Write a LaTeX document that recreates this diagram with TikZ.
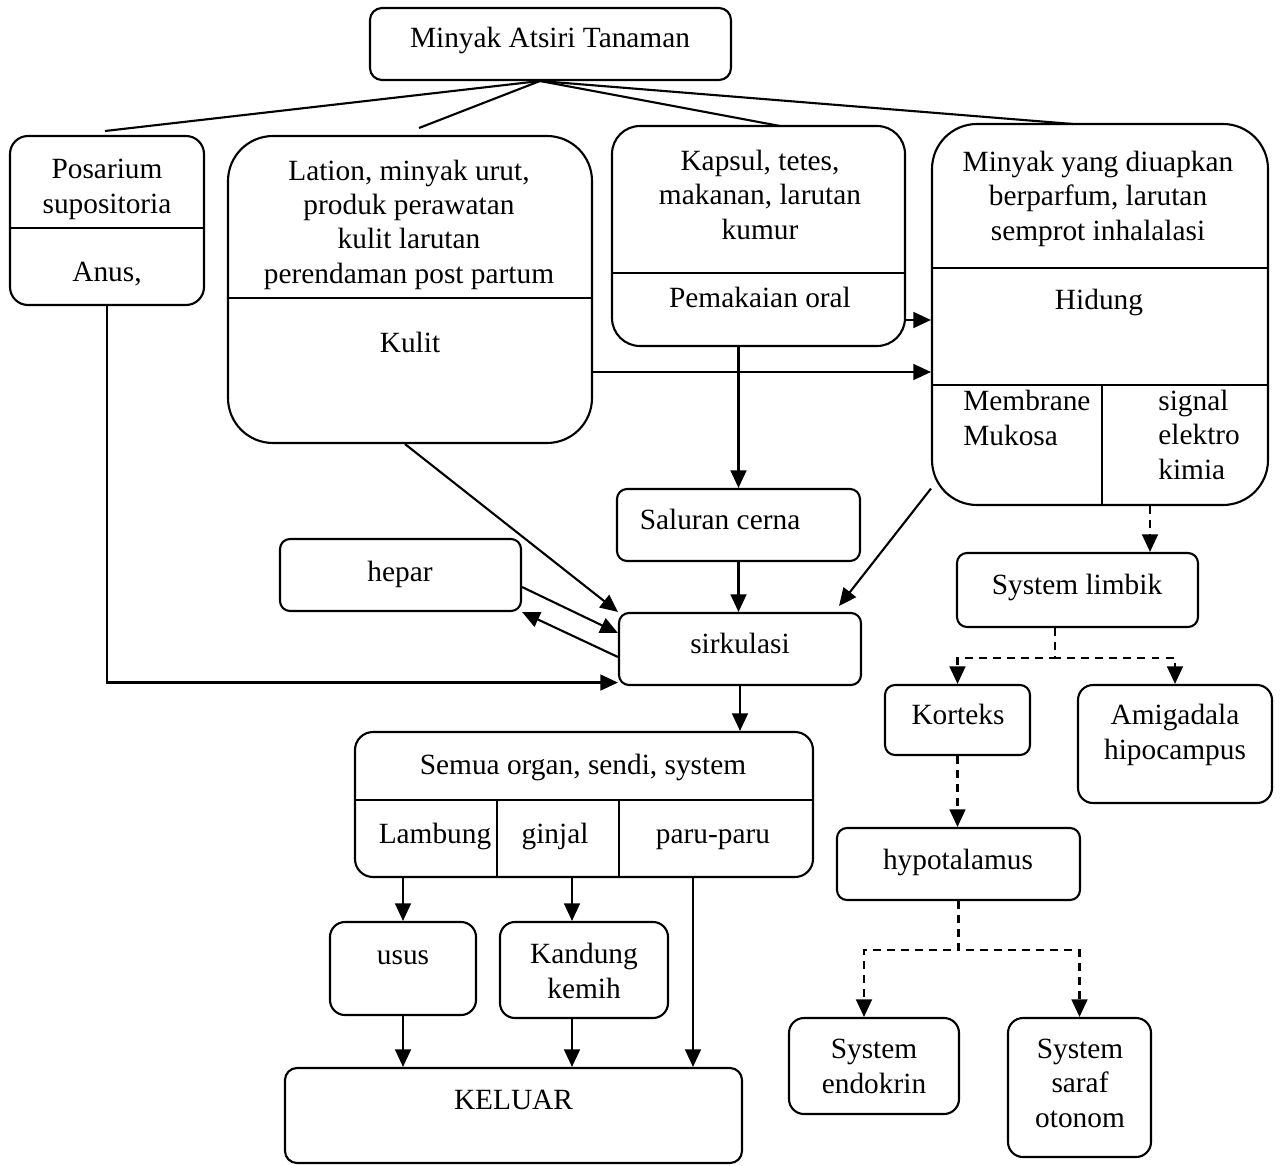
\documentclass[tikz,border=0pt]{standalone}
\usepackage{fontspec}
\setmainfont{Liberation Serif}
\usetikzlibrary{arrows.meta}

\begin{document}
\begin{tikzpicture}[
  box/.style={draw,line width=1.2pt,rounded corners=#1,inner sep=0pt},
  box/.default=0.2cm,
  wh/.style 2 args={minimum width=#1cm,minimum height=#2cm},
  txt/.style={font=\fontsize{16.7}{19.4}\selectfont,align=center,anchor=base,inner sep=0pt},
  ltxt/.style={txt,align=left,anchor=base west},
  line/.style={draw,line width=1.2pt},
  arr/.style={line,-{Triangle[length=10pt,width=9pt]}},
  darr/.style={arr,dash pattern=on 4.5pt off 3.5pt}
]
\useasboundingbox (0,0) rectangle (25.6,-23.32);

% top
\node[box=0.24cm,wh={7.22}{1.44}] (src) at (11.01,-0.88) {};
\node[txt] (srcT) at (11.0,-0.94) {Minyak Atsiri Tanaman};

% row of application routes
\node[box=0.36cm,wh={3.88}{3.38}] (pos) at (2.14,-4.41) {};
\node[box=0.9cm,wh={7.28}{6.14}] (oles) at (8.2,-5.79) {};
\node[box=0.56cm,wh={5.86}{4.4}] (oral) at (15.17,-4.72) {};
\node[box=0.9cm,wh={6.72}{7.62}] (inhal) at (22.0,-6.29) {};

\draw[line] ([yshift=-0.15cm]pos.west) -- ([yshift=-0.15cm]pos.east);
\draw[line] ([yshift=-0.17cm]oles.west) -- ([yshift=-0.17cm]oles.east);
\draw[line] ([yshift=-0.74cm]oral.west) -- ([yshift=-0.74cm]oral.east);
\draw[line] ([yshift=0.93cm]inhal.west) -- ([yshift=0.93cm]inhal.east);
\draw[line] ([yshift=-1.41cm]inhal.west) -- ([yshift=-1.41cm]inhal.east);
\draw[line] ([xshift=0.04cm,yshift=-1.41cm]inhal.center) -- ([xshift=0.04cm]inhal.south);

\node[txt] (posT) at (2.14,-4.26) {Posarium\\supositoria};
\node[txt] (posB) at (2.14,-5.62) {Anus,};
\node[txt] (olesT) at (8.18,-5.66) {Lation, minyak urut,\\produk perawatan\\kulit larutan\\perendaman post partum};
\node[txt] (olesB) at (8.2,-7.04) {Kulit};
\node[txt] (oralT) at (15.2,-4.78) {Kapsul, tetes,\\makanan, larutan\\kumur};
\node[txt] (oralB) at (15.2,-6.14) {Pemakaian oral};
\node[txt] (inhalT) at (21.96,-4.8) {Minyak yang diuapkan\\berparfum, larutan\\semprot inhalalasi};
\node[txt] (inhalB) at (21.98,-6.18) {Hidung};
\node[ltxt] (inhalL) at (19.26,-8.9) {Membrane\\Mukosa};
\node[ltxt] (inhalR) at (23.16,-9.58) {signal\\elektro\\kimia};

% middle
\node[box,wh={4.86}{1.44}] (cerna) at (14.77,-10.5) {};
\node[box,wh={4.82}{1.44}] (hep) at (8.01,-11.5) {};
\node[box,wh={4.84}{1.44}] (sirk) at (14.8,-12.98) {};
\node[txt] (cernaT) at (14.4,-10.58) {Saluran cerna};
\node[txt] (hepT) at (8.0,-11.62) {hepar};
\node[txt] (sirkT) at (14.8,-13.06) {sirkulasi};

% organs and exit
\node[box=0.36cm,wh={9.16}{2.9}] (organ) at (11.68,-16.09) {};
\draw[line] ([yshift=0.09cm]organ.west) -- ([yshift=0.09cm]organ.east);
\draw[line] ([xshift=-1.74cm,yshift=0.09cm]organ.center) -- ([xshift=-1.74cm]organ.south);
\draw[line] ([xshift=0.7cm,yshift=0.09cm]organ.center) -- ([xshift=0.7cm]organ.south);
\node[txt] (organT) at (11.66,-15.48) {Semua organ, sendi, system};
\node[txt] (lamb) at (8.7,-16.86) {Lambung};
\node[txt] (ginj) at (11.1,-16.86) {ginjal};
\node[txt] (paru) at (14.26,-16.86) {paru-paru};

\node[box=0.3cm,wh={2.92}{1.86}] (usus) at (8.06,-19.37) {};
\node[box=0.3cm,wh={3.36}{1.92}] (kand) at (11.68,-19.4) {};
\node[box=0.24cm,wh={9.14}{1.9}] (kel) at (10.27,-22.31) {};
\node[txt] (ususT) at (8.06,-19.28) {usus};
\node[txt] (kandT) at (11.68,-19.96) {Kandung\\kemih};
\node[txt] (kelT) at (10.27,-22.18) {KELUAR};

% limbic side
\node[box,wh={4.82}{1.48}] (limb) at (21.55,-11.8) {};
\node[box,wh={2.9}{1.4}] (kort) at (19.15,-14.4) {};
\node[box=0.3cm,wh={3.88}{2.36}] (amig) at (23.5,-14.88) {};
\node[box,wh={4.86}{1.44}] (hypo) at (19.17,-17.28) {};
\node[box=0.3cm,wh={3.4}{1.92}] (endo) at (17.48,-21.32) {};
\node[box=0.3cm,wh={2.86}{2.78}] (saraf) at (21.59,-21.75) {};
\node[txt] (limbT) at (21.54,-11.88) {System limbik};
\node[txt] (kortT) at (19.16,-14.48) {Korteks};
\node[txt] (amigT) at (23.5,-15.18) {Amigadala\\hipocampus};
\node[txt] (hypoT) at (19.16,-17.38) {hypotalamus};
\node[txt] (endoT) at (17.48,-21.86) {System\\endokrin};
\node[txt] (sarafT) at (21.6,-22.54) {System\\saraf\\otonom};

% branches from the top
\coordinate (apex) at (10.8,-1.62);
\coordinate (toPos) at (2.1,-2.62);
\coordinate (toOles) at (8.38,-2.56);
\coordinate (toOral) at (15.6,-2.52);
\coordinate (toInhal) at (21.46,-2.48);
\draw[line] (apex) -- (toPos);
\draw[line] (apex) -- (toOles);
\draw[line] (apex) -- (toOral);
\draw[line] (apex) -- (toInhal);

% into the blood
\coordinate (yK) at (0,-7.44);
\coordinate (yO) at (0,-6.4);
\draw[arr] (oles.east |- yK) -- (inhal.west |- yK);
\draw[arr] (oral.east |- yO) -- (inhal.west |- yO);
\draw[arr] (oral.south -| cerna.north) -- (cerna.north);
\draw[arr] (cerna.south) -- (cerna.south |- sirk.north);
\draw[arr] (pos.south) |- ([yshift=2pt]sirk.south west);
\draw[arr] ([xshift=-0.1cm]oles.south) -- (sirk.north west);
\draw[arr] ([yshift=-0.24cm]hep.east) -- ([yshift=0.32cm]sirk.west);
\draw[arr] ([yshift=-0.16cm]sirk.west) -- (hep.south east);
\draw[arr] ([yshift=0.35cm]inhal.south west) -- ([xshift=-0.46cm,yshift=0.12cm]sirk.north east);
\draw[arr] (sirk.south) -- (sirk.south |- organ.north);

% out of the body
\coordinate (xP) at (13.86,0);
\draw[arr] (usus.north |- organ.south) -- (usus.north);
\draw[arr] ([xshift=-0.24cm]kand.north |- organ.south) -- ([xshift=-0.24cm]kand.north);
\draw[arr] (organ.south -| xP) -- (kel.north -| xP);
\draw[arr] (usus.south) -- (usus.south |- kel.north);
\draw[arr] ([xshift=-0.24cm]kand.south) -- ([xshift=-0.24cm]kand.south |- kel.north);

% nerve path
\coordinate (xL) at (23.0,0);
\draw[darr] (inhal.south -| xL) -- (limb.north -| xL);
\draw[darr] ([xshift=-0.45cm]limb.south) -- ++(0,-0.6) -| (kort.north);
\draw[darr] ([xshift=-0.45cm]limb.south) -- ++(0,-0.6) -| (amig.north);
\draw[darr] (kort.south) -- (kort.south |- hypo.north);
\draw[darr] (hypo.south) -- ++(0,-0.98) -| ([xshift=-0.2cm]endo.north);
\draw[darr] (hypo.south) -- ++(0,-0.98) -| (saraf.north);
\end{tikzpicture}
\end{document}
